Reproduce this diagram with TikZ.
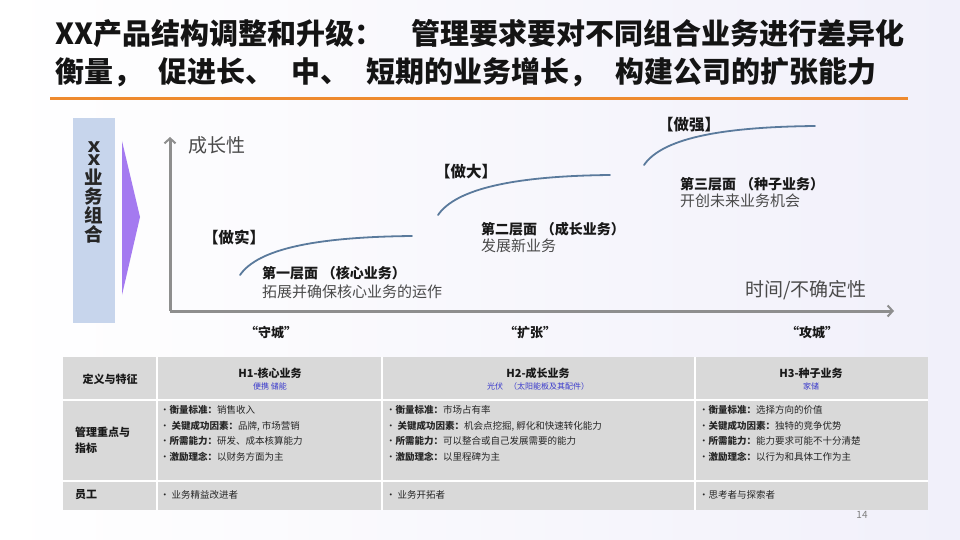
\documentclass[tikz,border=0pt]{standalone}
\usepackage{fontspec}
\usepackage{graphicx}
\setmainfont{Noto Sans CJK SC}
\usetikzlibrary{arrows.meta}
\definecolor{txtgray}{HTML}{4A4A4A}
\definecolor{axgray}{HTML}{8E8E8E}
\definecolor{curveblue}{HTML}{5A7A9C}
\definecolor{subblue}{HTML}{3A3ACC}
\definecolor{boxblue}{HTML}{C7D5EC}
\definecolor{tripurple}{HTML}{A47AF0}
\definecolor{orangeline}{HTML}{EE8A2E}
\definecolor{tblgray}{HTML}{D9D9D9}
\definecolor{bgright}{HTML}{F1F0FA}
\begin{document}
\begin{tikzpicture}[x=1pt,y=-1pt,
  every node/.style={inner sep=0pt, outer sep=0pt},
  ttl/.style={anchor=west, font=\bfseries\fontsize{29}{32}\selectfont, text=black!92},
  vx/.style={anchor=center, text height=10.5pt, text depth=0pt, font=\bfseries\fontsize{14.5}{15}\selectfont, text=black!85},
  vch/.style={anchor=center, font=\bfseries\fontsize{18.5}{19}\selectfont, text=black!85},
  axislbl/.style={anchor=west, font=\fontsize{19}{21}\selectfont, text=txtgray},
  brk/.style={anchor=west, font=\bfseries\fontsize{15.5}{17}\selectfont, text=black!90},
  lvl/.style={anchor=west, font=\bfseries\fontsize{14}{16}\selectfont, text=black!90},
  desc/.style={anchor=west, font=\fontsize{15}{17}\selectfont, text=txtgray},
  quot/.style={anchor=center, font=\bfseries\fontsize{13}{15}\selectfont, text=black!90},
  axisline/.style={draw=axgray, line width=3pt, -{Straight Barb[length=5pt,width=11pt,line width=2pt]}},
  growth/.style={draw=curveblue, line width=1.8pt, line cap=round},
  hdr/.style={anchor=center, font=\bfseries\fontsize{11}{13}\selectfont, text=black!90},
  subh/.style={anchor=center, font=\fontsize{8}{10}\selectfont, text=subblue},
  rowlbl/.style={anchor=west, align=left, font=\bfseries\fontsize{11}{16}\selectfont, text=black!90},
  cell/.style={anchor=west, font=\fontsize{9.5}{12}\selectfont, text=black!85},
  sep/.style={draw=white, line width=1.8pt},
]
\useasboundingbox (0,0) rectangle (960,540);
\shade[left color=white, right color=bgright] (0,0) rectangle (960,540);

% title
\node[ttl] (t1) at (55,34) {XX产品结构调整和升级：\hspace{28pt}管理要求要对不同组合业务进行差异化};
\node[ttl] (t2) at (55,72) {衡量，\hspace{17pt}促进长、\hspace{17pt}中、\hspace{17pt}短期的业务增长，\hspace{17pt}构建公司的扩张能力};
\coordinate (ol) at (50,99);
\coordinate (or) at (908,99);
\draw[orangeline, line width=3pt] (ol) -- (or);

% left box and triangle
\fill[boxblue] (73,118) rectangle (115,323);
\node[vx] (vx1) at (94,147) {\scalebox{1.35}[1]{X}};
\node[vx] (vx2) at (94,160) {\scalebox{1.35}[1]{X}};
\node[vch] (vc1) at (94,177) {业};
\node[vch] (vc2) at (94,196) {务};
\node[vch] (vc3) at (94,215) {组};
\node[vch] (vc4) at (94,234) {合};
\fill[tripurple] (122,141) -- (140,217) -- (122,295) -- cycle;

% axes
\coordinate (origin) at (170,311);
\coordinate (ytop) at (170,137);
\coordinate (xend) at (894,311);
\draw[axisline] (origin) -- (ytop);
\draw[axisline] (origin) -- (xend);
\node[axislbl] (ylbl) at (188,145) {成长性};
\node[axislbl] (xlbl) at (745,290) {时间/不确定性};

% curves
\coordinate (c1a) at (240,275); \coordinate (c1b) at (412,236);
\coordinate (c2a) at (438,215); \coordinate (c2b) at (610,175);
\coordinate (c3a) at (644,165); \coordinate (c3b) at (815,126);
\draw[growth] (c1a) .. controls (258,249) and (315,237) .. (c1b);
\draw[growth] (c2a) .. controls (456,189) and (513,176) .. (c2b);
\draw[growth] (c3a) .. controls (662,139) and (718,127) .. (c3b);

\node[brk] (b1) at (203,237) {【做实】};
\node[brk] (b2) at (435,172) {【做大】};
\node[brk] (b3) at (658,125) {【做强】};

\node[lvl] (l1) at (262,273) {第一层面\hspace{4pt}（核心业务）};
\node[desc] (d1) at (262,292) {拓展并确保核心业务的运作};
\node[lvl] (l2) at (481,229) {第二层面\hspace{4pt}（成长业务）};
\node[desc] (d2) at (481,246) {发展新业务};
\node[lvl] (l3) at (680,184) {第三层面\hspace{4pt}（种子业务）};
\node[desc] (d3) at (680,201) {开创未来业务机会};

\node[quot] (q1) at (271,333) {“守城”};
\node[quot] (q2) at (530,333) {“扩张”};
\node[quot] (q3) at (812,333) {“攻城”};

% table
\fill[tblgray] (63,357) rectangle (928,510);
\draw[sep] (157,357) -- (157,510);
\draw[sep] (382,357) -- (382,510);
\draw[sep] (695,357) -- (695,510);
\draw[sep] (63,400) -- (928,400);
\draw[sep] (63,481) -- (928,481);

\node[hdr] (h0) at (110,379) {定义与特征};
\node[hdr] (h1) at (270,373) {H1-核心业务};
\node[subh] (s1) at (270,386) {便携 储能};
\node[hdr] (h2) at (538,373) {H2-成长业务};
\node[subh] (s2) at (538,386) {光伏\hspace{6pt}（太阳能板及其配件）};
\node[hdr] (h3) at (811,373) {H3-种子业务};
\node[subh] (s3) at (811,386) {家储};

\node[rowlbl] (r2) at (75,440) {管理重点与\\指标};
\node[rowlbl] (r3) at (75,495) {员工};

\node[cell] (a1) at (160,410) {•\textbf{衡量标准：}销售收入};
\node[cell] (a2) at (160,426) {• \textbf{关键成功因素：}品牌, 市场营销};
\node[cell] (a3) at (160,441) {•\textbf{所需能力：}研发、成本核算能力};
\node[cell] (a4) at (160,457) {•\textbf{激励理念：}以财务方面为主};

\node[cell] (b1c) at (386,410) {•\textbf{衡量标准：}市场占有率};
\node[cell] (b2c) at (386,426) {• \textbf{关键成功因素：}机会点挖掘, 孵化和快速转化能力};
\node[cell] (b3c) at (386,441) {•\textbf{所需能力：}可以整合或自己发展需要的能力};
\node[cell] (b4c) at (386,457) {•\textbf{激励理念：}以里程碑为主};

\node[cell] (c1c) at (699,410) {•\textbf{衡量标准：}选择方向的价值};
\node[cell] (c2c) at (699,426) {•\textbf{关键成功因素：}独特的竞争优势};
\node[cell] (c3c) at (699,441) {•\textbf{所需能力：}能力要求可能不十分清楚};
\node[cell] (c4c) at (699,457) {•\textbf{激励理念：}以行为和具体工作为主};

\node[cell] (e1) at (160,495) {• 业务精益改进者};
\node[cell] (e2) at (386,495) {• 业务开拓者};
\node[cell] (e3) at (699,495) {•思考者与探索者};

\node[anchor=center, font=\fontsize{10}{12}\selectfont, text=black!50] (pg) at (862,515) {14};
\end{tikzpicture}
\end{document}
